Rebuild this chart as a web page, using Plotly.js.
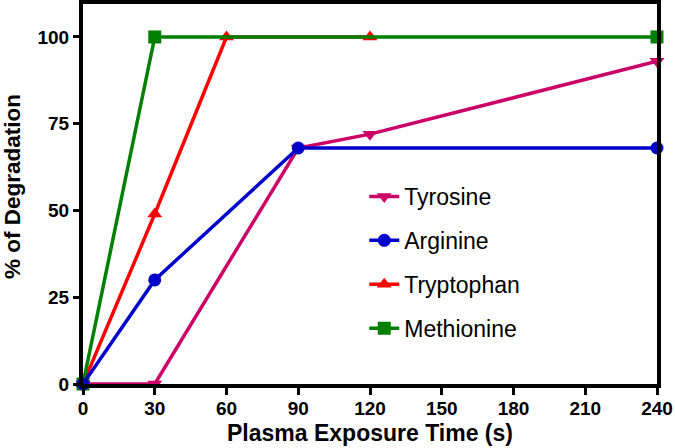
<!DOCTYPE html>
<html>
<head>
<meta charset="utf-8">
<script src="https://cdn.plot.ly/plotly-3.0.1.min.js"></script>
<style>
  html, body { margin: 0; padding: 0; background: #fff; }
  #chart { width: 675px; height: 448px; }
</style>
</head>
<body>
<div id="chart"></div>
<script>
// time points (s) and degradation (%) per amino acid
const tyrosineX = [0, 30, 90, 120, 240];
const tyrosineY = [0, 0, 68, 72, 93];
const arginineX = [0, 30, 90, 240];
const arginineY = [0, 30, 68, 68];
const tryptophanX = [0, 30, 60, 120];
const tryptophanY = [0, 49, 100, 100];
const methionineX = [0, 30, 240];
const methionineY = [0, 100, 100];

const xTicks = [0, 30, 60, 90, 120, 150, 180, 210, 240];
const yTicks = [0, 25, 50, 75, 100];

function series(name, x, y, color, symbol, rank) {
    return {
        name: name, x: x, y: y,
        type: 'scatter', mode: 'lines+markers',
        line: { color: color, width: 3.5 },
        marker: { color: color, symbol: symbol, size: 13 },
        cliponaxis: false,
        legendgroup: name,
        legendrank: rank
    };
}

// draw order: red under green, blue on top
const traces = [
    series('Tryptophan', tryptophanX, tryptophanY, '#ff0000', 'triangle-up', 3),
    series('Methionine', methionineX, methionineY, '#008000', 'square', 4),
    series('Tyrosine', tyrosineX, tyrosineY, '#cc0066', 'triangle-down', 1),
    series('Arginine', arginineX, arginineY, '#0000cc', 'circle', 2)
];

const FONT = 'Liberation Sans, Arial, sans-serif';
const tickFont = { family: FONT, size: 19, color: '#000', weight: 'bold' };

const layout = {
    width: 675, height: 448,
    margin: { l: 83, r: 18, t: 4, b: 64 },
    paper_bgcolor: '#fff', plot_bgcolor: '#fff',
    font: { family: FONT, color: '#000' },
    xaxis: {
        range: [0, 240],
        tickvals: xTicks,
        ticks: 'outside', ticklen: 7, tickwidth: 3, tickcolor: '#000',
        ticklabelstandoff: -3,
        showline: true, linewidth: 4, linecolor: '#000', mirror: true,
        showgrid: false, zeroline: false,
        tickfont: tickFont
    },
    yaxis: {
        range: [0, 109.5],
        tickvals: yTicks,
        ticks: 'outside', ticklen: 6, tickwidth: 3, tickcolor: '#000',
        showline: true, linewidth: 4, linecolor: '#000', mirror: true,
        showgrid: false, zeroline: false,
        tickfont: tickFont
    },
    // axis titles as annotations for exact placement
    annotations: [
        {
            text: 'Plasma Exposure Time (s)', showarrow: false,
            xref: 'paper', yref: 'paper', x: 0.5, y: -0.128,
            xanchor: 'center', yanchor: 'middle',
            font: { family: FONT, size: 23, color: '#000', weight: 'bold' }
        },
        {
            text: '% of Degradation', showarrow: false, textangle: -90,
            xref: 'paper', yref: 'paper', x: -0.1228, y: 0.52,
            xanchor: 'center', yanchor: 'middle',
            font: { family: FONT, size: 22.5, color: '#000', weight: 'bold' }
        }
    ],
    showlegend: true,
    legend: {
        x: 0.49, y: 0.55, xanchor: 'left', yanchor: 'top',
        bgcolor: 'rgba(0,0,0,0)',
        font: { family: FONT, size: 23, color: '#000' },
        traceorder: 'grouped', tracegroupgap: 11
    }
};

Plotly.newPlot('chart', traces, layout, { displayModeBar: false, staticPlot: true });
</script>
</body>
</html>
